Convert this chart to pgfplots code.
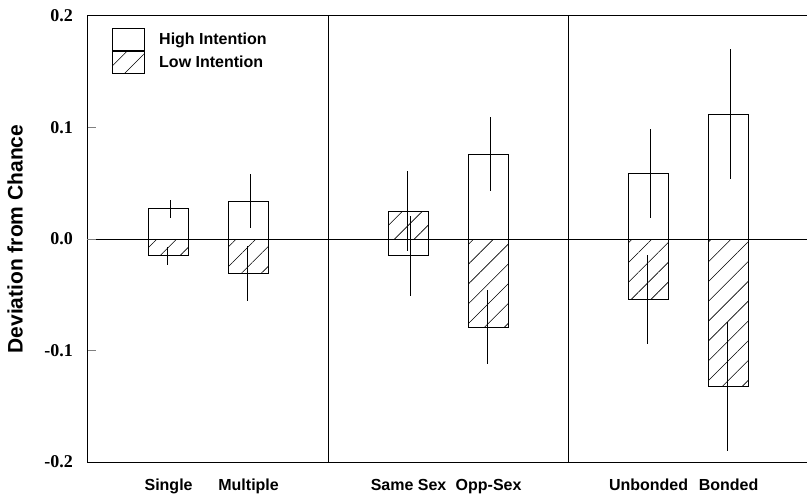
\documentclass[border=0pt]{standalone}
\usepackage{fontspec}
\setmainfont{Liberation Sans}
\newfontfamily\timesfont{Liberation Serif}
\usepackage{pgfplots}
\pgfplotsset{compat=1.18}
\usetikzlibrary{patterns.meta}
\pgfplotsset{
    boxlegend/.style={legend image code/.code={\draw[##1] (0pt,-11pt) rectangle (32pt,11pt);}},
    errline/.style={draw=none, mark=none, forget plot,
        error bars/.cd, y dir=both, y explicit, error mark=none,
        error bar style={draw=black, line width=0.8pt}},
}

\begin{document}
\begin{tikzpicture}
\begin{axis}[
    scale only axis,
    width=720pt, height=446pt,
    xmin=-1.02, xmax=7.98,
    ymin=-0.2, ymax=0.2,
    axis x line*=box, axis y line*=left,
    axis line style={line width=1pt},
    xtick={0,1,3,4,6,7},
    xticklabels={Single, Multiple, Same Sex, Opp-Sex, Unbonded, Bonded},
    xtick style={draw=none},
    xticklabel style={font=\bfseries\fontsize{16}{16}\selectfont, anchor=base, yshift=-28pt, inner sep=0pt},
    ytick={-0.2,-0.1,0,0.1,0.2},
    yticklabels={-0.2,-0.1,0.0,0.1,0.2},
    ytick pos=left,
    tick align=inside,
    major tick length=9pt,
    ytick style={line width=1pt},
    yticklabel style={font=\timesfont\bfseries\fontsize{18}{18}\selectfont, anchor=east, inner sep=0pt, xshift=-14pt},
    ylabel={Deviation from Chance},
    ylabel style={font=\bfseries\fontsize{21}{21}\selectfont, at={(axis description cs:-0.1,0.5)}, anchor=center, inner sep=0pt},
    extra x ticks={2,5},
    extra x tick labels={},
    extra x tick style={grid=major},
    extra y ticks={0},
    extra y tick labels={},
    extra y tick style={grid=major},
    major grid style={black, line width=0.8pt},
    legend style={draw=none, fill=none, at={(axis description cs:0.035,0.973)}, anchor=north west,
        inner sep=0pt, row sep=0pt, column sep=14pt,
        font=\bfseries\fontsize{16}{16}\selectfont, nodes={inner sep=0pt}},
    legend cell align=left,
]
% high intention
\addplot[ybar, bar width=0.5, bar shift=0pt, fill=white, draw=black, line width=0.8pt, boxlegend]
    coordinates {(0,0.027) (1,0.034) (3,-0.015) (4,0.076) (6,0.059) (7,0.112)};
% low intention
\addplot[ybar, bar width=0.5, bar shift=0pt, draw=black, line width=0.8pt,
    pattern={Lines[angle=45,distance=14pt,line width=0.6pt]}, boxlegend]
    coordinates {(0,-0.015) (1,-0.031) (3,0.025) (4,-0.079) (6,-0.054) (7,-0.132)};
% error bars
\addplot[errline]
    coordinates {
    (0.025,0.027) +- (0,0.008)
    (1.025,0.034) +- (0,0.024)
    (3.025,-0.015) +- (0,0.036)
    (4.025,0.076) +- (0,0.033)
    (6.025,0.059) +- (0,0.040)
    (7.025,0.112) +- (0,0.058)
    };
\addplot[errline]
    coordinates {
    (-0.02,-0.015) +- (0,0.008)
    (0.98,-0.031) +- (0,0.025)
    (2.98,0.025) +- (0,0.036)
    (3.98,-0.079) +- (0,0.033)
    (5.98,-0.054) +- (0,0.040)
    (6.98,-0.132) +- (0,0.058)
    };
\legend{High Intention, Low Intention}
\end{axis}
\pgfresetboundingbox
\useasboundingbox ([xshift=-87pt,yshift=-33pt]current axis.south west) rectangle ([yshift=16pt]current axis.north east);
\end{tikzpicture}
\end{document}
